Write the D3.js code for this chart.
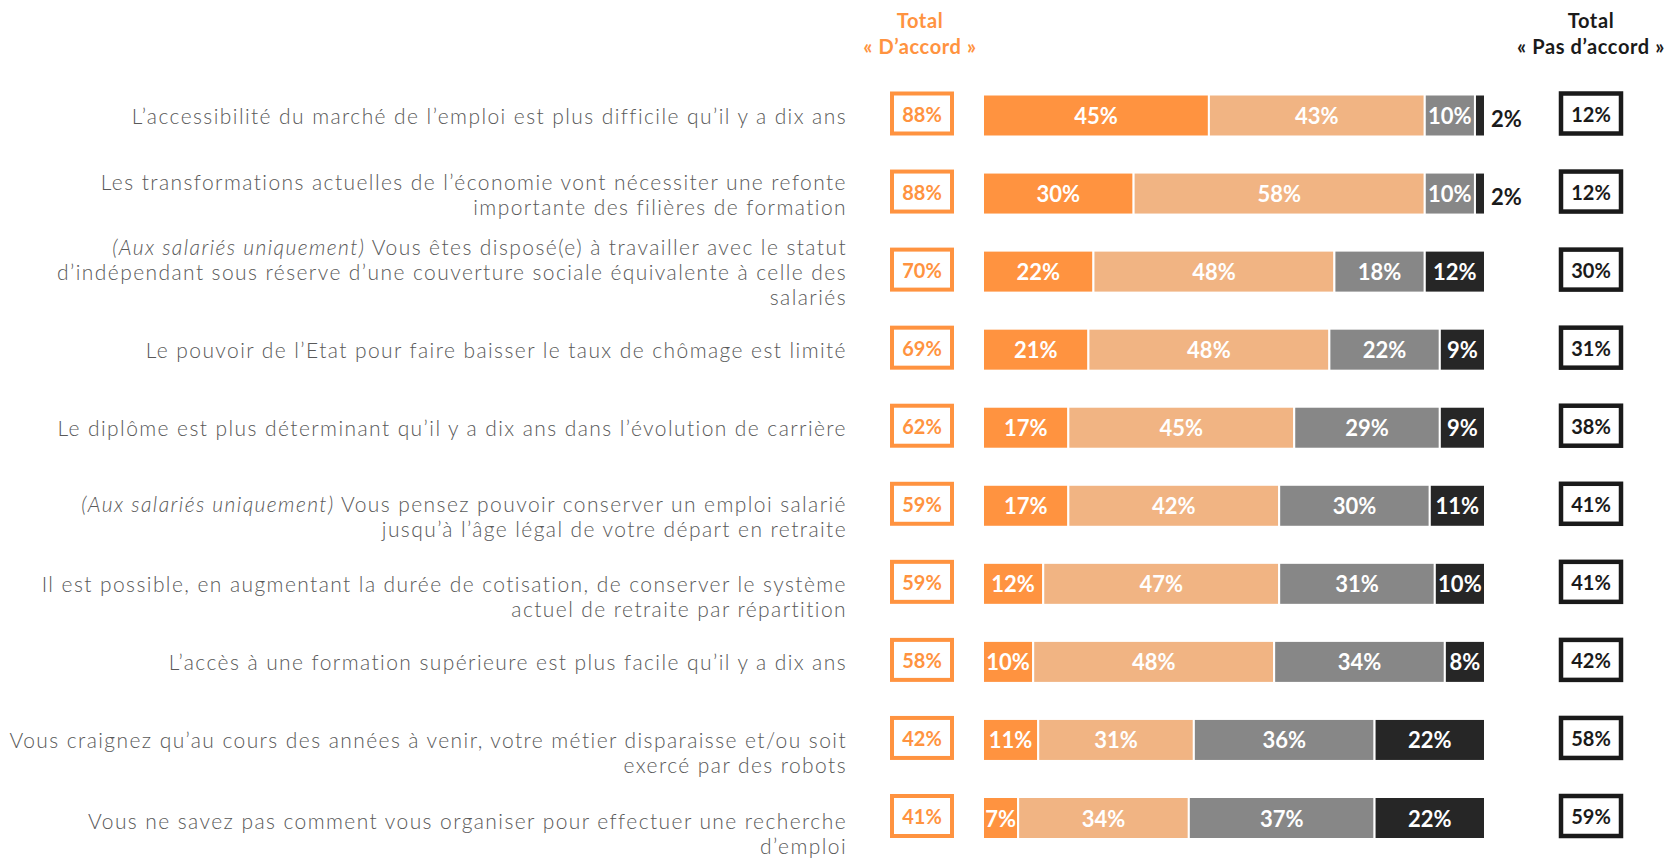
<!DOCTYPE html>
<html>
<head>
<meta charset="utf-8">
<script src="https://cdn.jsdelivr.net/npm/d3@7"></script>
<style>
  html, body { margin: 0; padding: 0; background: #fff; }
  svg { display: block; }
</style>
</head>
<body>
<div id="chart"></div>
<script>
// statements, as shown on the left (line breaks as in the reference)
const statements = [
  ["L’accessibilité du marché de l’emploi est plus difficile qu’il y a dix ans"],
  ["Les transformations actuelles de l’économie vont nécessiter une refonte", "importante des filières de formation"],
  ["(Aux salariés uniquement) Vous êtes disposé(e) à travailler avec le statut", "d’indépendant sous réserve d’une couverture sociale équivalente à celle des", "salariés"],
  ["Le pouvoir de l’Etat pour faire baisser le taux de chômage est limité"],
  ["Le diplôme est plus déterminant qu’il y a dix ans dans l’évolution de carrière"],
  ["(Aux salariés uniquement) Vous pensez pouvoir conserver un emploi salarié", "jusqu’à l’âge légal de votre départ en retraite"],
  ["Il est possible, en augmentant la durée de cotisation, de conserver le système", "actuel de retraite par répartition"],
  ["L’accès à une formation supérieure est plus facile qu’il y a dix ans"],
  ["Vous craignez qu’au cours des années à venir, votre métier disparaisse et/ou soit", "exercé par des robots"],
  ["Vous ne savez pas comment vous organiser pour effectuer une recherche", "d’emploi"]
]
const italicPrefix = "(Aux salariés uniquement)"

// series values (%)
const toutAFait    = [45, 30, 22, 21, 17, 17, 12, 10, 11, 7]
const plutot       = [43, 58, 48, 48, 45, 42, 47, 48, 31, 34]
const plutotPas    = [10, 10, 18, 22, 29, 30, 31, 34, 36, 37]
const pasDuTout    = [2, 2, 12, 9, 9, 11, 10, 8, 22, 22]
const totalAccord  = [88, 88, 70, 69, 62, 59, 59, 58, 42, 41]
const totalPas     = [12, 12, 30, 31, 38, 41, 41, 42, 58, 59]

const headerAccord = ["Total", "« D’accord »"]
const headerPas    = ["Total", "« Pas d’accord »"]

// layout only
const labelFirstLine = [0, -0.5, -1, 0, 0, -0.1, 0, 0, 0, 0.1]   // in line heights

const width = 1679, height = 859
const colors = ["#ff9340", "#f1b483", "#878787", "#262626"]
const series = [toutAFait, plutot, plutotPas, pasDuTout]
const font = "Lato, 'DejaVu Sans', sans-serif"

const svg = d3.select("#chart").append("svg")
  .attr("width", width)
  .attr("height", height)

const x = d3.scaleLinear().domain([0, 100]).range([983, 1485])
const y = d3.scalePoint().domain(d3.range(statements.length)).range([115.5, 818])
const barH = 42
const lineH = 25

// headers
const hdr = [
  {lines: headerAccord, x: 920, color: "#ff9340"},
  {lines: headerPas, x: 1591, color: "#1a1a1a"}
]
hdr.forEach(function(h){
  h.lines.forEach(function(t, i){
    svg.append("text")
      .attr("x", h.x)
      .attr("y", 20 + i * 26)
      .attr("text-anchor", "middle")
      .attr("dominant-baseline", "central")
      .attr("font-family", font)
      .attr("font-weight", "bold")
      .attr("font-size", 20)
      .attr("letter-spacing", 0.6)
      .attr("fill", h.color)
      .text(t)
  })
})

// statement labels
let labels = statements.map(function(lines, i){
  let txt = svg.append("text")
    .attr("text-anchor", "end")
    .attr("font-family", font)
    .attr("font-weight", 300)
    .attr("font-size", 21)
    .attr("fill", "#595959")

  lines.forEach(function(line, k){
    let t = txt.append("tspan")
      .attr("x", 847)
      .attr("y", y(i) + (labelFirstLine[i] + k) * lineH)
      .attr("dominant-baseline", "central")
    if (line.startsWith(italicPrefix)) {
      t.append("tspan").attr("font-style", "italic").text(italicPrefix)
      t.append("tspan").text(line.slice(italicPrefix.length))
    } else {
      t.text(line)
    }
  })
  return txt
})

// widen the letter spacing so the first statement spans like the original
let w0 = labels[0].node().getComputedTextLength()
let spacing = (714 - w0) / statements[0][0].length
labels.forEach(function(l){ l.attr("letter-spacing", spacing) })

// stacked segments
const rows = d3.range(statements.length).map(function(i){
  let start = 0
  return series.map(function(s, j){
    let seg = {row: i, k: j, v: s[i], x0: start, x1: start + s[i]}
    start += s[i]
    return seg
  })
})

const rowG = svg.selectAll("g.row")
  .data(rows)
  .join("g")
  .attr("class", "row")

rowG.selectAll("rect")
  .data(function(d){ return d })
  .join("rect")
  .attr("x", function(d){ return x(d.x0) })
  .attr("y", function(d){ return y(d.row) - barH / 2 })
  .attr("width", function(d){ return x(d.x1) - x(d.x0) })
  .attr("height", barH)
  .attr("fill", function(d){ return colors[d.k] })
  .attr("stroke", "#fff")
  .attr("stroke-width", 2)

rowG.selectAll("text")
  .data(function(d){ return d })
  .join("text")
  .attr("x", function(d){
    return d.v < 4 ? x(d.x1) + 6 : x((d.x0 + d.x1) / 2)
  })
  .attr("y", function(d){ return y(d.row) + (d.v < 4 ? 3 : 0) })
  .attr("text-anchor", function(d){ return d.v < 4 ? "start" : "middle" })
  .attr("dominant-baseline", "central")
  .attr("font-family", font)
  .attr("font-weight", "bold")
  .attr("font-size", 22)
  .attr("fill", function(d){ return d.v < 4 ? "#1a1a1a" : "#fff" })
  .text(function(d){ return d.v + "%" })

// total boxes
const boxW = 60, boxH = 40
const boxes = [
  {vals: totalAccord, cx: 922, color: "#ff9340", sw: 4},
  {vals: totalPas, cx: 1591, color: "#1a1a1a", sw: 4.5}
]
boxes.forEach(function(b){
  let g = svg.append("g")
  g.selectAll("rect")
    .data(b.vals)
    .join("rect")
    .attr("x", b.cx - boxW / 2)
    .attr("y", function(d, i){ return y(i) - boxH / 2 - 2 })
    .attr("width", boxW)
    .attr("height", boxH)
    .attr("fill", "#fff")
    .attr("stroke", b.color)
    .attr("stroke-width", b.sw)
  g.selectAll("text")
    .data(b.vals)
    .join("text")
    .attr("x", b.cx)
    .attr("y", function(d, i){ return y(i) - 2 })
    .attr("text-anchor", "middle")
    .attr("dominant-baseline", "central")
    .attr("font-family", font)
    .attr("font-weight", "bold")
    .attr("font-size", 20)
    .attr("fill", b.color)
    .text(function(d){ return d + "%" })
})
</script>
</body>
</html>
